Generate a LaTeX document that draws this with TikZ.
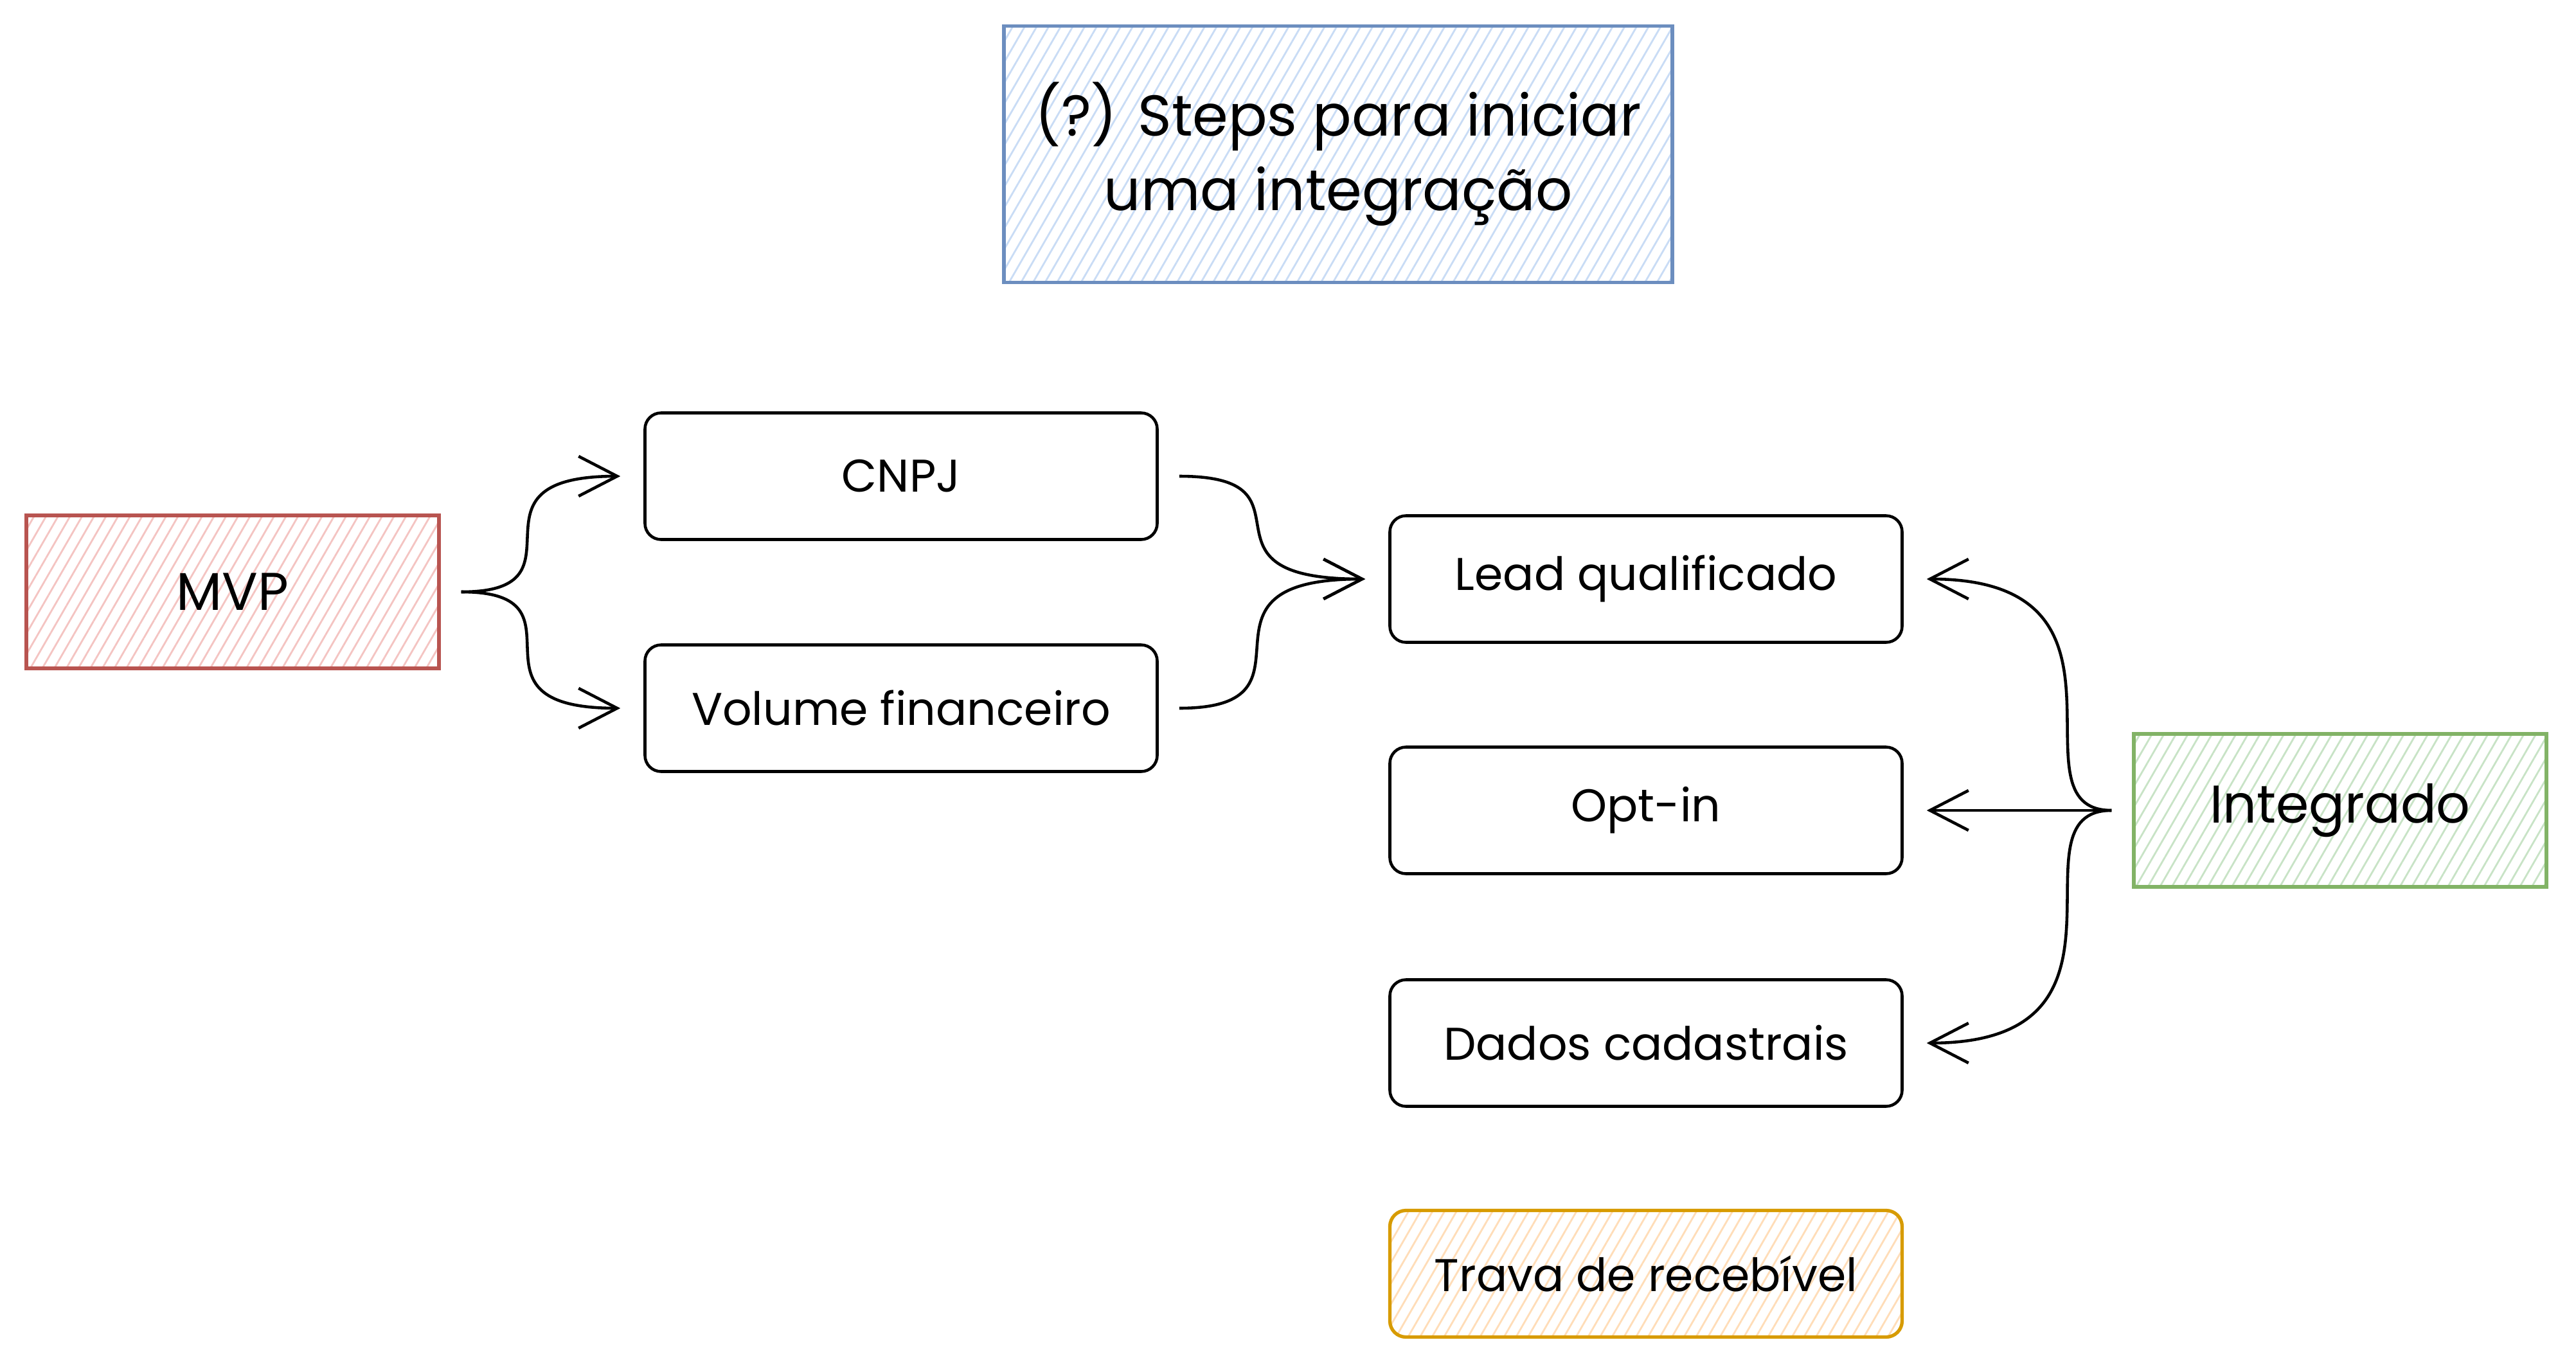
\documentclass[tikz,border=0pt]{standalone}
\usepackage{fontspec}
\setmainfont{Poppins}
\usepackage{tikz}
\usetikzlibrary{arrows.meta,positioning,patterns.meta}
\usepackage{xcolor}
\definecolor{bluS}{HTML}{6C8EBF}\definecolor{bluF}{HTML}{C9DCF5}
\definecolor{redS}{HTML}{B85450}\definecolor{redF}{HTML}{F4C4C2}
\definecolor{grnS}{HTML}{82B366}\definecolor{grnF}{HTML}{C8E3C6}
\definecolor{orgS}{HTML}{D79B00}\definecolor{orgF}{HTML}{FFDDB8}

\begin{document}
\begin{tikzpicture}[
  bx/.style={draw,line width=1.3pt,rounded corners=0.25cm,minimum width=7.97cm,
    minimum height=1.97cm,inner sep=0pt,font=\fontsize{20.3}{24}\selectfont},
  hb/.style={draw=#1S,line width=1.5pt,inner sep=0pt,
    pattern={Lines[angle=60,distance=4.6pt,line width=0.8pt]},pattern color=#1F},
  big/.style={minimum width=6.42cm,minimum height=2.38cm,font=\fontsize{23.5}{28}\selectfont},
  ar/.style={-{Straight Barb[length=6mm,width=6.2mm]},line width=1.3pt,
    shorten <=0.32cm,shorten >=0.36cm},
  lc/.style={out=0,in=180,out looseness=1.7,in looseness=2.1},
  rc/.style={out=180,in=0,out looseness=1.0,in looseness=2.0}]
  \useasboundingbox (0,0) rectangle (40.08,-21.24);
  % title
  \node[hb=blu,minimum width=10.40cm,minimum height=3.99cm,align=center,
    font=\fontsize{25.5}{33}\selectfont] (title) at (20.82,-2.40)
    {(?) Steps para iniciar\\uma integração};
  % left side
  \node[hb=red,big] (mvp) at (3.62,-9.21) {MVP};
  \node[bx] (cnpj) at (14.02,-7.41) {CNPJ};
  \node[bx] (vol) at (14.02,-11.02) {Volume financeiro};
  % middle column
  \node[bx] (lead) at (25.61,-9.01) {Lead qualificado};
  \node[bx] (opt) at (25.61,-12.61) {Opt-in};
  \node[bx] (dados) at (25.61,-16.23) {Dados cadastrais};
  \node[bx,hb=org,rounded corners=0.25cm] (trava) at (25.61,-19.82) {Trava de recebível};
  % right side
  \node[hb=grn,big] (int) at (36.41,-12.61) {Integrado};
  \draw[ar] (mvp.east) to[lc] (cnpj.west);
  \draw[ar] (mvp.east) to[lc] (vol.west);
  \draw[ar] (cnpj.east) to[lc] (lead.west);
  \draw[ar] (vol.east) to[lc] (lead.west);
  \draw[ar] (int.west) to[rc] (lead.east);
  \draw[ar] (int.west) -- (opt.east);
  \draw[ar] (int.west) to[rc] (dados.east);
\end{tikzpicture}
\end{document}
